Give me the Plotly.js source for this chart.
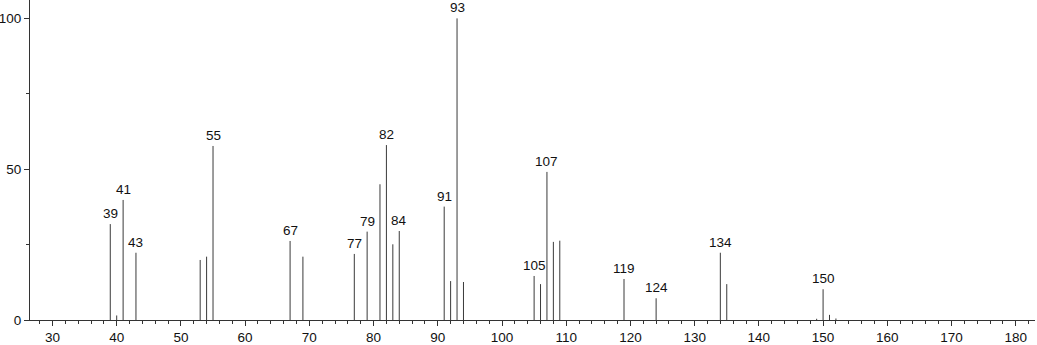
<!DOCTYPE html>
<html>
<head>
<meta charset="utf-8">
<script src="https://cdn.plot.ly/plotly-3.0.1.min.js"></script>
<style>html,body{margin:0;padding:0;background:#fff;}#chart{width:1037px;height:345px;}</style>
</head>
<body>
<div id="chart"></div>
<script>
// m/z values and relative intensities
const mz =        [39, 40, 41, 43, 53, 54, 55, 67, 69, 77, 79, 81, 82, 83, 84, 91, 92, 93, 94, 105, 106, 107, 108, 109, 119, 124, 134, 135, 149, 150, 151, 152];
const intensity = [31.8, 1.5, 39.8, 22.3, 19.9, 21.0, 57.7, 26.2, 21.0, 21.9, 29.3, 45.0, 58.0, 25.1, 29.5, 37.6, 12.9, 100, 12.6, 14.6, 11.9, 49.1, 25.9, 26.3, 13.6, 7.2, 22.3, 11.9, 0.4, 10.2, 1.7, 0.5];
const labeledMz = [39, 41, 43, 55, 67, 77, 79, 82, 84, 91, 93, 105, 107, 119, 124, 134, 150];

const xs = [], ys = [];
mz.forEach((m, i) => { xs.push(m, m, null); ys.push(0, intensity[i], null); });

const trace = {
  x: xs, y: ys, type: 'scatter', mode: 'lines',
  line: {color: '#3a3a3a', width: 1}, hoverinfo: 'skip', showlegend: false
};

const annotations = labeledMz.map(m => ({
  x: m, y: intensity[mz.indexOf(m)], xref: 'x', yref: 'y',
  text: String(m), showarrow: false, yanchor: 'bottom', yshift: 1,
  font: {family: 'Liberation Sans, Arial, sans-serif', size: 13.5, color: '#111'}
}));

const layout = {
  width: 1037, height: 345,
  margin: {l: 30, r: 2, t: 0, b: 25},
  paper_bgcolor: '#fff', plot_bgcolor: '#fff',
  font: {family: 'Liberation Sans, Arial, sans-serif', size: 13.5, color: '#111'},
  xaxis: {
    range: [26.5, 183], tick0: 30, dtick: 10, ticks: 'outside', ticklen: 5, tickcolor: '#333',
    showgrid: false, zeroline: false, showline: true, linecolor: '#333', linewidth: 1,
    minor: {dtick: 2, tick0: 30, ticks: 'outside', ticklen: 3, tickcolor: '#333', showgrid: false},
    tickfont: {size: 13.5, color: '#111'}
  },
  yaxis: {
    range: [0, 106.1], tick0: 0, dtick: 50, ticks: 'outside', ticklen: 5, tickcolor: '#333',
    showgrid: false, zeroline: false, showline: true, linecolor: '#333', linewidth: 1,
    minor: {dtick: 25, ticks: 'outside', ticklen: 3, tickcolor: '#333', showgrid: false},
    tickfont: {size: 13.5, color: '#111'}
  },
  annotations: annotations
};

Plotly.newPlot('chart', [trace], layout, {staticPlot: true, displayModeBar: false});
</script>
</body>
</html>
